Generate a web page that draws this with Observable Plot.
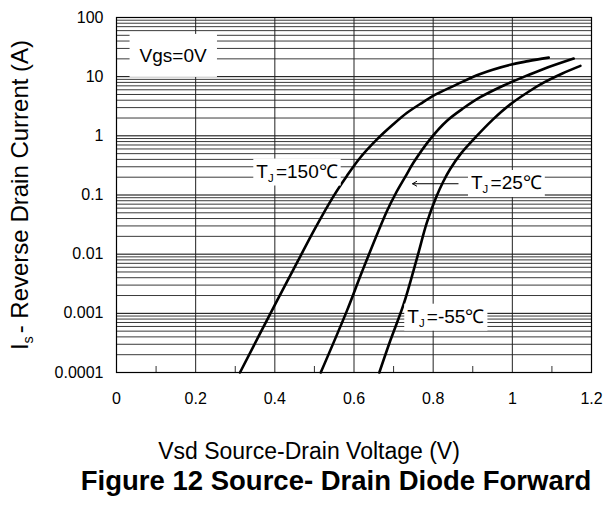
<!DOCTYPE html>
<html><head><meta charset="utf-8">
<script src="https://cdn.jsdelivr.net/npm/d3@7"></script>
<script src="https://cdn.jsdelivr.net/npm/@observablehq/plot@0.6"></script>
<style>body{margin:0;background:#fff;}</style>
</head><body><div id="chart"></div>
<script>
// Series: Vsd (V) and Is (A)
const v150 = [0.312, 0.389, 0.458, 0.500, 0.548, 0.582, 0.616, 0.658, 0.700, 0.734, 0.770, 0.809, 0.860, 0.919, 0.995, 1.040, 1.092];
const i150 = [0.0001, 0.001, 0.0076, 0.026, 0.095, 0.21, 0.43, 0.87, 1.58, 2.45, 3.55, 5.1, 7.4, 11.1, 15.9, 18.3, 21.0];
const v25 = [0.516, 0.582, 0.620, 0.683, 0.705, 0.729, 0.750, 0.793, 0.835, 0.877, 0.919, 0.978, 1.030, 1.079, 1.155];
const i25 = [0.0001, 0.0011, 0.005, 0.053, 0.105, 0.2, 0.35, 0.89, 1.8, 2.95, 4.5, 7.1, 10.0, 13.5, 20.2];
const vm55 = [0.664, 0.692, 0.725, 0.759, 0.784, 0.807, 0.825, 0.843, 0.870, 0.902, 0.950, 0.995, 1.040, 1.079, 1.125, 1.172];
const im55 = [0.0001, 0.00035, 0.0014, 0.0085, 0.034, 0.09, 0.166, 0.275, 0.5, 0.87, 1.86, 3.4, 5.5, 7.9, 11.2, 15.2];

const xTicks = [0, 0.2, 0.4, 0.6, 0.8, 1, 1.2];
const xMinor = [0.1, 0.3, 0.5, 0.7, 0.9, 1.1];
const xGrid = [0.2, 0.4, 0.6, 0.8, 1.0];
const yTicks = [0.0001, 0.001, 0.01, 0.1, 1, 10, 100];
const yMinorMult = [2, 3, 4, 5, 6, 7, 8, 9];

const labels = [
  {text: "Vgs=0V", x: 0.143, y: 22.5},
  {text: "T_J=150℃", x: 0.456, y: 0.25},
  {text: "T_J=25℃", x: 0.985, y: 0.16},
  {text: "T_J=-55℃", x: 0.832, y: 0.00088}
];
const arrowData = [{x1: 0.863, x2: 0.748, y: 0.155}];
const xTitle = "Vsd Source-Drain Voltage (V)";
const yTitle = "I_s- Reverse Drain Current (A)";
const caption = "Figure 12 Source- Drain Diode Forward";

const yMinor = yTicks.slice(0, -1).flatMap(t => yMinorMult.map(m => t * m));
const table = [
  ...v150.map((v, k) => ({s: "150", v, i: i150[k]})),
  ...v25.map((v, k) => ({s: "25", v, i: i25[k]})),
  ...vm55.map((v, k) => ({s: "-55", v, i: im55[k]}))
];
const fmt = d => String(d);
const font = "'Liberation Sans', Arial, sans-serif";

const chart = Plot.plot({
  width: 606, height: 505,
  marginLeft: 116, marginRight: 15, marginTop: 17, marginBottom: 133,
  style: {fontFamily: font, background: "#fff", color: "#000"},
  x: {domain: [0, 1.2]},
  y: {type: "log", domain: [0.0001, 100]},
  marks: [
    Plot.ruleY(yMinor, {stroke: "#3a3a3a", strokeWidth: 1}),
    Plot.ruleY(yTicks, {stroke: "#000", strokeWidth: 1}),
    Plot.ruleX(xGrid, {stroke: "#222", strokeWidth: 1}),
    Plot.axisX(xMinor, {tickSize: -6, tickFormat: () => "", label: null, stroke: "#333"}),
    Plot.axisX(xTicks, {tickSize: 0, tickPadding: 20, fontSize: 16, label: null, tickFormat: fmt}),
    Plot.axisY(yTicks, {tickSize: 0, tickPadding: 13, fontSize: 16, label: null, tickFormat: fmt}),
    Plot.frame({stroke: "#000", strokeWidth: 1.2}),
    Plot.line(table, {x: "v", y: "i", z: "s", stroke: "#000", strokeWidth: 2.6, curve: "catmull-rom"}),
    Plot.arrow(arrowData, {x1: "x1", x2: "x2", y1: "y", y2: "y", stroke: "#000", strokeWidth: 1, headLength: 7}),
    Plot.text(labels, {x: "x", y: "y", text: "text", fontSize: 19, fill: "#000", lineAnchor: "middle", className: "boxlabel"}),
    Plot.text([yTitle], {frameAnchor: "left", rotate: -90, dx: -96, textAnchor: "middle", lineAnchor: "middle", fontSize: 24, fill: "#000", className: "subtext"}),
    Plot.text([xTitle], {frameAnchor: "bottom", dx: -45, dy: 79, textAnchor: "middle", lineAnchor: "middle", fontSize: 23, fill: "#000"}),
    Plot.text([caption], {frameAnchor: "bottom", dx: -18, dy: 109, textAnchor: "middle", lineAnchor: "middle", fontSize: 27.5, fontWeight: "bold", fill: "#000"})
  ]
});
document.getElementById("chart").appendChild(chart);

// subscripts (T_J, I_s) rendered as real tspans
function subscriptify(t) {
  const s = t.textContent;
  if (!s.includes("_")) return;
  const m = s.match(/^(.*?)_(.)(.*)$/);
  t.textContent = "";
  const a = document.createElementNS("http://www.w3.org/2000/svg", "tspan");
  a.textContent = m[1];
  const b = document.createElementNS("http://www.w3.org/2000/svg", "tspan");
  b.textContent = m[2]; b.setAttribute("font-size", "0.6em"); b.setAttribute("dy", "0.35em");
  const c = document.createElementNS("http://www.w3.org/2000/svg", "tspan");
  c.textContent = m[3]; c.setAttribute("dy", "-0.21em"); c.setAttribute("dx", "0.12em");
  t.append(a, b, c);
}
chart.querySelectorAll("text").forEach(subscriptify);

// white boxes behind the in-plot labels
const boxPad = {"Vgs=0V": [10, 11]};
chart.querySelectorAll("g.boxlabel text").forEach(t => {
  const bb = t.getBBox();
  const [px, py] = boxPad[t.textContent] || [3, 2];
  const r = document.createElementNS("http://www.w3.org/2000/svg", "rect");
  r.setAttribute("x", bb.x - px); r.setAttribute("y", bb.y - py);
  r.setAttribute("width", bb.width + 2 * px); r.setAttribute("height", bb.height + 2 * py);
  r.setAttribute("fill", "#fff");
  if (t.getAttribute("transform")) r.setAttribute("transform", t.getAttribute("transform"));
  t.parentNode.insertBefore(r, t);
});
</script>
</body></html>
